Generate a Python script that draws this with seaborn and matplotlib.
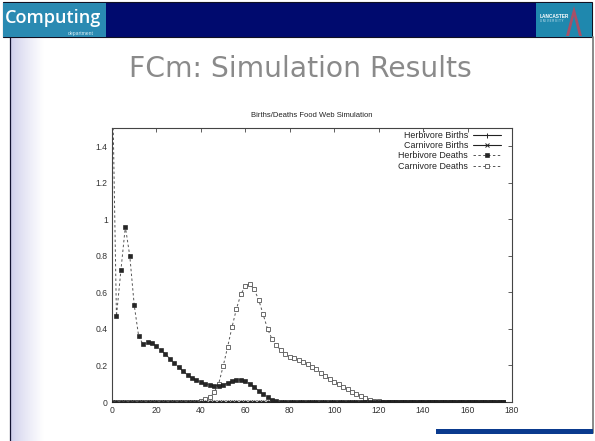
import numpy as np
import pandas as pd
import matplotlib
matplotlib.use("Agg")
import matplotlib.pyplot as plt
import seaborn as sns
from matplotlib.patches import Rectangle, Polygon

# ---------------- data ----------------
time_steps = list(range(0, 178, 2))          # 0 .. 176
herbivore_births = [0.0] * 89
carnivore_births = [0.0] * 89
herbivore_deaths = [1.9, 0.47, 0.72, 0.96, 0.80, 0.53, 0.36, 0.315, 0.33, 0.325,
                    0.305, 0.285, 0.262, 0.238, 0.213, 0.19, 0.168, 0.148, 0.132, 0.12,
                    0.108, 0.10, 0.094, 0.09, 0.089, 0.094, 0.103, 0.113, 0.12, 0.121,
                    0.114, 0.10, 0.082, 0.062, 0.042, 0.025, 0.012, 0.005, 0.001] + [0.0] * 50
carnivore_deaths = [0.0] * 20 + [0.006, 0.014, 0.028, 0.055, 0.10, 0.195, 0.30, 0.41, 0.51, 0.59,
                                 0.635, 0.647, 0.616, 0.56, 0.48, 0.40, 0.345, 0.31, 0.283, 0.262,
                                 0.248, 0.24, 0.231, 0.221, 0.208, 0.194, 0.179, 0.161, 0.143, 0.127,
                                 0.112, 0.097, 0.083, 0.069, 0.056, 0.045, 0.033, 0.022, 0.013, 0.007,
                                 0.003, 0.001] + [0.0] * 27
series_names = ["Herbivore Births", "Carnivore Births", "Herbivore Deaths", "Carnivore Deaths"]
x_ticks = [0, 20, 40, 60, 80, 100, 120, 140, 160, 180]
y_ticks = [0, 0.2, 0.4, 0.6, 0.8, 1.0, 1.2, 1.4]
y_tick_labels = ["0", "0.2", "0.4", "0.6", "0.8", "1", "1.2", "1.4"]
chart_title = "Births/Deaths Food Web Simulation"
slide_title = "FCm: Simulation Results"

# ---------------- figure ----------------
sns.set_theme(style="white")
plt.rcParams["font.family"] = ["Liberation Sans", "DejaVu Sans"]

W, H = 595, 441
fig = plt.figure(figsize=(W / 100, H / 100), dpi=100)
fig.patch.set_facecolor("white")

# slide background axes in pixel coordinates
bg = fig.add_axes([0, 0, 1, 1], zorder=0)
bg.axis("off")

# lavender gradient on the left
lav = np.array([0.80, 0.80, 0.92])
t = np.linspace(0, 1, 64) ** 0.8
grad = (lav[None, :] * (1 - t[:, None]) + np.ones(3)[None, :] * t[:, None])[None, :, :]
bg.imshow(grad, extent=(10, 44, H, 37), aspect="auto", zorder=0)
bg.set_xlim(0, W)
bg.set_ylim(H, 0)

# banner
bg.add_patch(Rectangle((3, 2), 589, 35, facecolor="#000a6e", edgecolor="#111122", lw=0.8, zorder=1))
bg.add_patch(Rectangle((3, 2.5), 103, 34.5, facecolor="#2a8ab2", edgecolor="none", zorder=2))
bg.add_patch(Rectangle((536, 2.5), 56, 34.5, facecolor="#1f88ae", edgecolor="none", zorder=2))
bg.text(5, 18, "Computing", color="white", fontsize=13, family=["Open Sans", "DejaVu Sans"],
        fontweight="semibold", va="center", ha="left", zorder=3)
bg.text(94, 33, "department", color="#d8eef5", fontsize=3.6, ha="right", va="center", zorder=3)
bg.text(540, 16, "LANCASTER", color="white", fontsize=3.4, fontweight="bold", ha="left", va="center", zorder=3)
bg.text(540, 21, "U N I V E R S I T Y", color="#e0f0f8", fontsize=2.0, ha="left", va="center", zorder=3)
bg.add_patch(Polygon([[566, 36], [574, 6], [582, 36], [579, 36], [574, 16], [569, 36]],
                     closed=True, facecolor="#c0465a", edgecolor="none", alpha=0.85, zorder=3))

# frame lines
bg.plot([10, 10], [37, H], color="#101030", lw=0.9, zorder=2)
bg.plot([592.5, 592.5], [37, 433], color="#808080", lw=1.3, zorder=2)
bg.add_patch(Rectangle((436, 429), 157, 5, facecolor="#0a3a8e", edgecolor="none", zorder=2))

# slide title
tt = bg.text(300, 69, slide_title, color="#8a8a8a", fontsize=24,
             family=["Liberation Sans Narrow", "DejaVu Sans"], ha="center", va="center", zorder=3)
fig.canvas.draw()
bb = tt.get_window_extent()
tt.set_fontsize(24 * 344 / bb.width)

# ---------------- chart ----------------
left, right = 112 / W, 512 / W
bottom, top = (H - 402) / H, (H - 128) / H
ax = fig.add_axes([left, bottom, right - left, top - bottom], zorder=5)
ax.set_facecolor("none")

line_col = "#222222"
dash_col = "#555555"
sns.lineplot(x=time_steps, y=herbivore_births, ax=ax, label=series_names[0], color=line_col,
             lw=0.8, marker="+", markersize=3.6, mew=0.7, mec=line_col,
             estimator=None, sort=False, zorder=4)
sns.lineplot(x=time_steps, y=carnivore_births, ax=ax, label=series_names[1], color=line_col,
             lw=0.8, marker="x", markersize=2.8, mew=0.7, mec=line_col,
             estimator=None, sort=False, zorder=4)
sns.lineplot(x=time_steps, y=herbivore_deaths, ax=ax, label=series_names[2], color=dash_col,
             lw=0.7, linestyle=(0, (2.5, 2.5)), marker="s", markersize=2.6, mfc="#262626",
             mec="#111111", mew=0.4, estimator=None, sort=False, zorder=3)
sns.lineplot(x=time_steps, y=carnivore_deaths, ax=ax, label=series_names[3], color=dash_col,
             lw=0.7, linestyle=(0, (2.5, 2.5)), marker="s", markersize=3.0, mfc="white",
             mec="#555555", mew=0.6, estimator=None, sort=False, zorder=2)

ax.set_xlim(0, 180)
ax.set_ylim(0, 1.5)
ax.set_xticks(x_ticks)
ax.set_xticklabels([str(v) for v in x_ticks])
ax.set_yticks(y_ticks)
ax.set_yticklabels(y_tick_labels)
ax.set_xlabel("")
ax.set_ylabel("")
ax.tick_params(direction="in", top=True, right=True, length=3, width=0.6,
               labelsize=6.2, labelcolor="#333333", color="#444444", pad=3)
for s in ax.spines.values():
    s.set_color("#444444")
    s.set_linewidth(0.8)
ax.set_title(chart_title, fontsize=5.5, color="#222222", pad=8)

leg = ax.legend(loc="upper right", bbox_to_anchor=(0.9725, 0.99), markerfirst=False,
                frameon=False, fontsize=6.4, handlelength=3.2, handletextpad=0.5,
                labelspacing=0.15, borderaxespad=0, borderpad=0)
for txt in leg.get_texts():
    txt.set_color("#222222")

fig.savefig("out.png", dpi=100, facecolor="white")
